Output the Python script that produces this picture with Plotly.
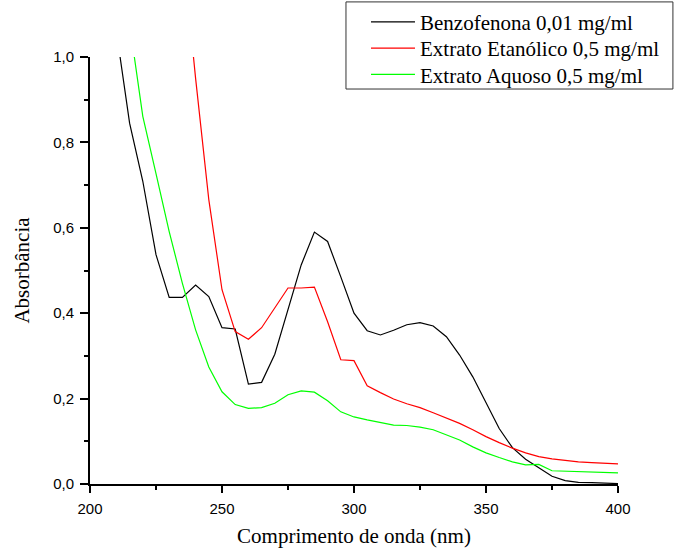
import plotly.graph_objects as go

# Wavelengths (nm)
wl_benzo = [210, 215, 220, 225, 230, 235, 240, 245, 250, 255, 260, 265, 270, 275, 280,
            285, 290, 295, 300, 305, 310, 315, 320, 325, 330, 335, 340, 345, 350, 355,
            360, 365, 370, 375, 380, 385, 390, 395, 400]
abs_benzo = [1.06, 0.845, 0.709, 0.537, 0.437, 0.437, 0.466, 0.439, 0.366, 0.363, 0.234,
             0.238, 0.304, 0.408, 0.513, 0.590, 0.568, 0.485, 0.400, 0.359, 0.349, 0.360,
             0.373, 0.378, 0.370, 0.345, 0.302, 0.251, 0.189, 0.130, 0.085, 0.058, 0.038,
             0.018, 0.008, 0.004, 0.003, 0.002, 0.001]

wl_etanol = [235, 240, 245, 250, 255, 260, 265, 270, 275, 280, 285, 290, 295, 300, 305,
             310, 315, 320, 325, 330, 335, 340, 345, 350, 355, 360, 365, 370, 375, 380,
             385, 390, 395, 400]
abs_etanol = [1.26, 0.95, 0.666, 0.455, 0.357, 0.339, 0.366, 0.412, 0.459, 0.459, 0.461,
              0.380, 0.291, 0.289, 0.230, 0.214, 0.199, 0.188, 0.179, 0.167, 0.154, 0.142,
              0.127, 0.111, 0.097, 0.084, 0.073, 0.064, 0.059, 0.055, 0.052, 0.050, 0.048,
              0.047]

wl_aquoso = [215, 220, 225, 230, 235, 240, 245, 250, 255, 260, 265, 270, 275, 280, 285,
             290, 295, 300, 305, 310, 315, 320, 325, 330, 335, 340, 345, 350, 355, 360,
             365, 370, 375, 380, 385, 390, 395, 400]
abs_aquoso = [1.078, 0.861, 0.727, 0.591, 0.470, 0.361, 0.274, 0.216, 0.186, 0.177, 0.179,
              0.189, 0.209, 0.218, 0.215, 0.195, 0.169, 0.157, 0.150, 0.144, 0.138, 0.137,
              0.133, 0.127, 0.115, 0.103, 0.087, 0.073, 0.062, 0.052, 0.045, 0.046, 0.031,
              0.030, 0.029, 0.028, 0.027, 0.026]

names = ["Benzofenona 0,01 mg/ml", "Extrato Etanólico 0,5 mg/ml", "Extrato Aquoso 0,5 mg/ml"]
colors = ["#000000", "#ff0000", "#00ff00"]

x_ticks = [200, 250, 300, 350, 400]
y_ticks = [0.0, 0.2, 0.4, 0.6, 0.8, 1.0]

legend_ids = ["legend", "legend2", "legend3"]

fig = go.Figure()
for xs, ys, nm, col, lg in [(wl_benzo, abs_benzo, names[0], colors[0], legend_ids[0]),
                            (wl_etanol, abs_etanol, names[1], colors[1], legend_ids[1]),
                            (wl_aquoso, abs_aquoso, names[2], colors[2], legend_ids[2])]:
    fig.add_trace(go.Scatter(x=xs, y=ys, mode="lines", name=nm, legend=lg,
                             line=dict(color=col, width=1.2)))

tickfont = dict(family="Liberation Sans, Arial, sans-serif", size=15, color="#000")
titlefont = dict(family="Liberation Serif, Times New Roman, serif", size=21, color="#000")
legfont = dict(family="Liberation Serif, Times New Roman, serif", size=21, color="#000")

def leg(y):
    return dict(x=0.5227, y=y, xanchor="left", yanchor="middle", borderwidth=0,
                bgcolor="rgba(0,0,0,0)", itemwidth=44, font=legfont)

fig.update_layout(
    width=676, height=549,
    margin=dict(l=90, r=58, t=57, b=65, autoexpand=False),
    paper_bgcolor="white", plot_bgcolor="white",
    separators=",.",
    showlegend=True,
    legend=leg(1.0813),
    legend2=leg(1.0199),
    legend3=leg(0.9585),
    shapes=[dict(type="rect", xref="paper", yref="paper",
                 x0=0.4848, x1=1.104, y0=0.925, y1=1.129,
                 line=dict(color="#333", width=1), fillcolor="rgba(0,0,0,0)", layer="below")],
    xaxis=dict(range=[200, 400], tickvals=x_ticks, showgrid=False, zeroline=False,
               showline=True, linecolor="#000", linewidth=2, automargin=False,
               ticks="outside", ticklen=7, tickwidth=1.5, tickcolor="#000",
               tickfont=tickfont, ticklabelstandoff=3,
               minor=dict(dtick=25, ticks="outside", ticklen=4, tickwidth=1.5, tickcolor="#000"),
               title=dict(text="Comprimento de onda (nm)", font=titlefont, standoff=12)),
    yaxis=dict(range=[0, 1.0], tickvals=y_ticks, tickformat=".1f", showgrid=False,
               zeroline=False, showline=True, linecolor="#000", linewidth=2, automargin=False,
               ticks="outside", ticklen=8, tickwidth=1.5, tickcolor="#000",
               tickfont=tickfont, ticklabelstandoff=3,
               minor=dict(dtick=0.1, ticks="outside", ticklen=4, tickwidth=1.5, tickcolor="#000"),
               title=dict(text="Absorbância", font=titlefont, standoff=18)),
)

fig.write_html("out.html", config={"displayModeBar": False},
               post_script="document.body.style.margin='0';")
